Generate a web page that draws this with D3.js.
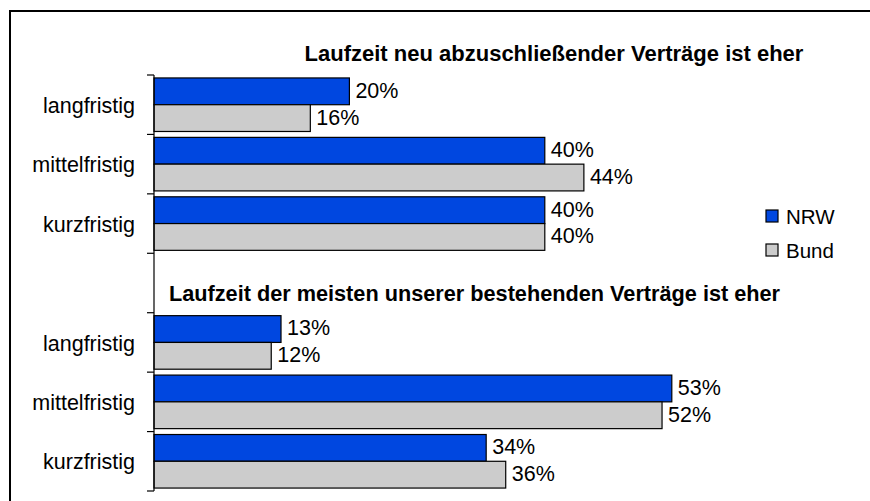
<!DOCTYPE html>
<html lang="de">
<head>
    <meta charset="UTF-8">
    <title>Laufzeit der Verträge</title>
    <style>
        body{ margin: 0; background: #fff; }
        svg{ display: block; font-family: "Liberation Sans", Arial, sans-serif; }
    </style>
    <script src="https://cdn.jsdelivr.net/npm/d3@7"></script>
</head>
<body>
<svg id="svg_main" width="870" height="501"></svg>
<script>
    // slots of the category axis, the empty one holds the second heading
    const slots = ["neu_lang", "neu_mittel", "neu_kurz", "leer", "best_lang", "best_mittel", "best_kurz"];
    const slotLabels = ["langfristig", "mittelfristig", "kurzfristig", "", "langfristig", "mittelfristig", "kurzfristig"];
    const series = ["NRW", "Bund"];
    const nrw  = [20, 40, 40, null, 13, 53, 34];
    const bund = [16, 44, 40, null, 12, 52, 36];
    const headings = ["Laufzeit neu abzuschließender Verträge ist eher",
                      "Laufzeit der meisten unserer bestehenden Verträge ist eher"];
    const colors = {NRW: "#0047e0", Bund: "#cccccc"};

    const svg = d3.select("#svg_main");

    // outer frame (cut off at right and bottom like the original)
    svg.append("path")
        .attr("d", "M10,520 L10,11 L880,11")
        .attr("fill", "none")
        .attr("stroke", "#000")
        .attr("stroke-width", 2);

    const x = d3.scaleLinear().domain([0, 60]).range([154, 740.2]);
    const y = d3.scaleBand().domain(slots).range([75, 491]);
    const ySub = d3.scaleBand().domain(series).range([0, y.bandwidth()]).paddingOuter(0.11);

    // rows built from the arrays
    const rows = [];
    slots.forEach((s, i) => {
        if (nrw[i] === null) return;
        rows.push({slot: s, key: "NRW", value: nrw[i]});
        rows.push({slot: s, key: "Bund", value: bund[i]});
    });

    svg.append("g").selectAll("rect")
        .data(rows)
        .enter().append("rect")
        .attr("x", x(0))
        .attr("y", d => y(d.slot) + ySub(d.key))
        .attr("width", d => x(d.value) - x(0))
        .attr("height", ySub.bandwidth())
        .attr("fill", d => colors[d.key])
        .attr("stroke", "#000")
        .attr("stroke-width", 1.2);

    svg.append("g").selectAll("text")
        .data(rows)
        .enter().append("text")
        .attr("x", d => x(d.value) + 6)
        .attr("y", d => y(d.slot) + ySub(d.key) + ySub.bandwidth() / 2)
        .attr("dy", "0.3em")
        .attr("font-size", 21.5)
        .attr("fill", "#000")
        .text(d => d.value + "%");

    // category axis: line plus ticks between categories
    const axis = svg.append("g");
    axis.append("line")
        .attr("x1", x(0)).attr("x2", x(0))
        .attr("y1", y.range()[0]).attr("y2", y.range()[1])
        .attr("stroke", "#000").attr("stroke-width", 1.2);
    const tickYs = slots.map(s => y(s)).concat([y.range()[1]]);
    axis.selectAll("line.tick")
        .data(tickYs)
        .enter().append("line")
        .attr("class", "tick")
        .attr("x1", x(0) - 7).attr("x2", x(0))
        .attr("y1", d => d).attr("y2", d => d)
        .attr("stroke", "#000").attr("stroke-width", 1.2);
    axis.selectAll("text")
        .data(slots)
        .enter().append("text")
        .attr("x", 135)
        .attr("y", d => y(d) + y.bandwidth() / 2)
        .attr("dy", "0.38em")
        .attr("text-anchor", "end")
        .attr("font-size", 21.5)
        .text((d, i) => slotLabels[i]);

    // headings
    svg.append("text")
        .attr("x", 554).attr("y", 61)
        .attr("text-anchor", "middle")
        .attr("font-size", 22).attr("font-weight", "bold")
        .text(headings[0]);
    svg.append("text")
        .attr("x", 474.5).attr("y", 301)
        .attr("text-anchor", "middle")
        .attr("font-size", 21.7).attr("font-weight", "bold")
        .text(headings[1]);

    // legend
    const legend = svg.append("g").attr("transform", "translate(766,210)");
    series.forEach((s, i) => {
        const g = legend.append("g").attr("transform", `translate(0,${i * 34})`);
        g.append("rect")
            .attr("width", 12).attr("height", 12)
            .attr("fill", colors[s])
            .attr("stroke", "#000").attr("stroke-width", 1.2);
        g.append("text")
            .attr("x", 20).attr("y", 6)
            .attr("dy", "0.4em")
            .attr("font-size", 20.5)
            .text(s);
    });
</script>
</body>
</html>
